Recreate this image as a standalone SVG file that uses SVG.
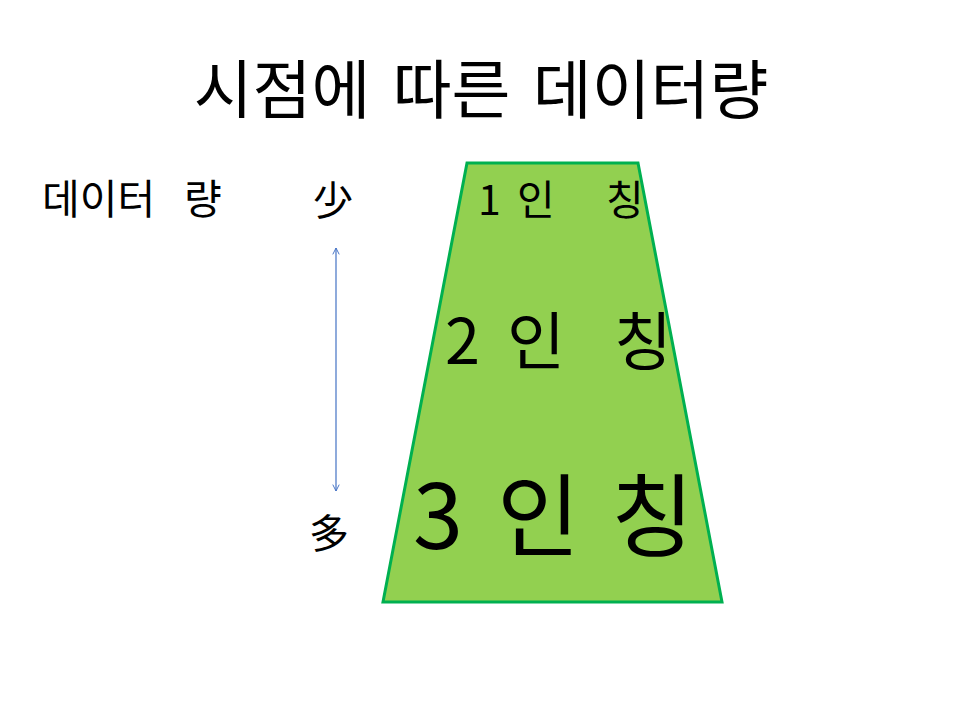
<svg xmlns="http://www.w3.org/2000/svg" width="960" height="720" viewBox="0 0 960 720">
<style>
text{font-family:"Noto Sans CJK KR","Noto Sans",sans-serif;fill:#000}
</style>
<defs>
<marker id="ah" viewBox="0 0 10 10" refX="9" refY="5" markerWidth="8" markerHeight="8" orient="auto-start-reverse" markerUnits="userSpaceOnUse">
<path d="M1,1 L9,5 L1,9" fill="none" stroke="#4472C4" stroke-width="1.2"/>
</marker>
</defs>
<rect width="960" height="720" fill="#fff"/>
<g id="title"><text x="481" y="113" font-size="64" text-anchor="middle" word-spacing="8">시점에 따른 데이터량</text></g>
<g id="label-data"><text y="214" font-size="41"><tspan x="42">데이터</tspan><tspan x="184">량</tspan></text></g>
<g id="label-few"><text x="313" y="215" font-size="40">少</text></g>
<g id="label-many"><text x="309" y="548" font-size="40">多</text></g>
<g id="trapezoid">
<polygon points="467,163 638,163 722,602 383,602" fill="#92D050" stroke="#00B050" stroke-width="3"/>
<text y="215" font-size="41"><tspan x="478">1</tspan><tspan x="517">인</tspan><tspan x="606">칭</tspan></text>
<text y="364" font-size="63"><tspan x="445">2</tspan><tspan x="507">인</tspan><tspan x="614">칭</tspan></text>
<text y="549" font-size="90"><tspan x="413">3</tspan><tspan x="497">인</tspan><tspan x="611">칭</tspan></text>
</g>
<g id="connectors">
<line x1="336" y1="248" x2="336" y2="491" stroke="#4472C4" stroke-width="1.2" marker-start="url(#ah)" marker-end="url(#ah)"/>
</g>
</svg>
